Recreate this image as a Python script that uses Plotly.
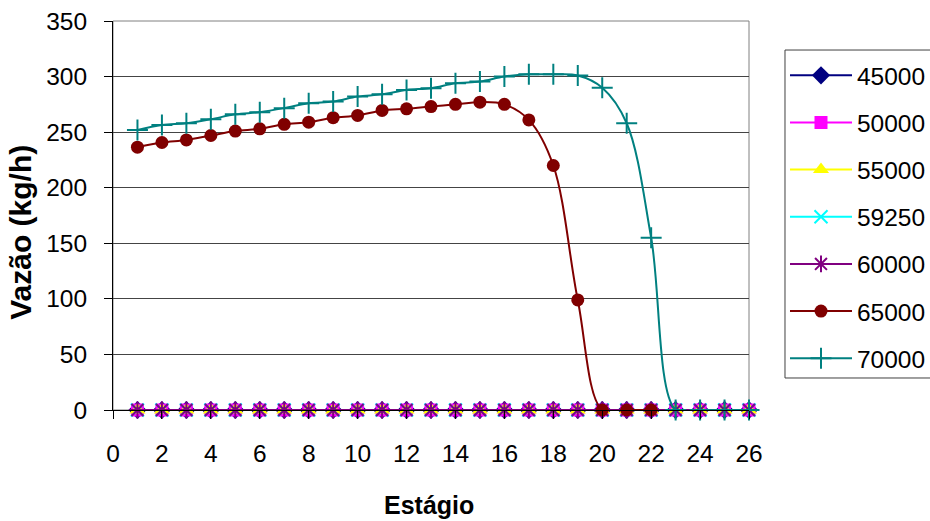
import plotly.graph_objects as go

stages = [1, 2, 3, 4, 5, 6, 7, 8, 9, 10, 11, 12, 13, 14, 15, 16, 17, 18, 19, 20, 21, 22, 23, 24, 25, 26]
stages_65000 = [1, 2, 3, 4, 5, 6, 7, 8, 9, 10, 11, 12, 13, 14, 15, 16, 17, 18, 19, 20, 21, 22]

v45000 = [0, 0, 0, 0, 0, 0, 0, 0, 0, 0, 0, 0, 0, 0, 0, 0, 0, 0, 0, 0, 0, 0, 0, 0, 0, 0]
v50000 = [0, 0, 0, 0, 0, 0, 0, 0, 0, 0, 0, 0, 0, 0, 0, 0, 0, 0, 0, 0, 0, 0, 0, 0, 0, 0]
v55000 = [0, 0, 0, 0, 0, 0, 0, 0, 0, 0, 0, 0, 0, 0, 0, 0, 0, 0, 0, 0, 0, 0, 0, 0, 0, 0]
v59250 = [0, 0, 0, 0, 0, 0, 0, 0, 0, 0, 0, 0, 0, 0, 0, 0, 0, 0, 0, 0, 0, 0, 0, 0, 0, 0]
v60000 = [0, 0, 0, 0, 0, 0, 0, 0, 0, 0, 0, 0, 0, 0, 0, 0, 0, 0, 0, 0, 0, 0, 0, 0, 0, 0]
v65000 = [236.5, 240.7, 243, 247, 251, 253, 257, 259, 263, 265, 269.5, 271, 273, 275, 277,
          275, 261, 220, 99, 0, 0, 0]
v70000 = [252, 256.5, 258, 261.6, 266, 268, 271.6, 276, 277.5, 282, 284, 288, 289.5, 294,
          295.5, 300, 302, 302, 301, 290, 258, 155, 0, 0, 0, 0]

series_names = ["45000", "50000", "55000", "59250", "60000", "65000", "70000"]
x_ticks = [0, 2, 4, 6, 8, 10, 12, 14, 16, 18, 20, 22, 24, 26]
y_ticks = [0, 50, 100, 150, 200, 250, 300, 350]

FONT = "Liberation Sans, Arial, sans-serif"
FS = 24.5

styles = [
    dict(color="#000080", symbol="diamond", size=14, lw=0),
    dict(color="#FF00FF", symbol="square", size=13, lw=0),
    dict(color="#FFFF00", symbol="triangle-up", size=14, lw=0),
    dict(color="#00FFFF", symbol="x-thin-open", size=13, lw=2),
    dict(color="#800080", symbol="asterisk-open", size=14, lw=2),
    dict(color="#800000", symbol="circle", size=13, lw=0),
    dict(color="#008080", symbol="cross-thin-open", size=15, lw=2),
]
xs = [stages, stages, stages, stages, stages, stages_65000, stages]
ys = [v45000, v50000, v55000, v59250, v60000, v65000, v70000]

fig = go.Figure()
for i, name in enumerate(series_names):
    st = styles[i]
    fig.add_trace(go.Scatter(
        x=xs[i], y=ys[i], name=name, mode="lines+markers",
        legendgroup=name, cliponaxis=False,
        line=dict(color=st["color"], width=2, shape="spline", smoothing=1),
        marker=dict(symbol=st["symbol"], size=st["size"], color=st["color"],
                    line=dict(color=st["color"], width=st["lw"])),
    ))

fig.update_layout(
    width=930, height=521,
    margin=dict(l=113, r=181, t=21, b=111, autoexpand=False),
    paper_bgcolor="white", plot_bgcolor="white",
    font=dict(family=FONT, size=FS, color="black"),
    showlegend=True,
    legend=dict(
        x=1.0566, xanchor="left", y=0.918, yanchor="top",
        borderwidth=0, bgcolor="rgba(0,0,0,0)",
        font=dict(size=FS), traceorder="grouped", tracegroupgap=12.3,
        itemwidth=62,
    ),
    xaxis=dict(
        range=[0, 26], tickvals=x_ticks, ticks="outside", ticklen=8,
        tickcolor="black", showline=True, linecolor="black", linewidth=1,
        showgrid=False, zeroline=False, ticklabelstandoff=14, automargin=False,
    ),
    yaxis=dict(
        range=[0, 350], tickvals=y_ticks, ticks="outside", ticklen=8,
        tickcolor="black", showline=True, linecolor="black", linewidth=1,
        showgrid=True, gridcolor="#444444", gridwidth=1, zeroline=False,
        ticklabelstandoff=12, automargin=False,
    ),
    shapes=[
        dict(type="rect", xref="paper", yref="paper", x0=0, x1=1, y0=0, y1=1,
             line=dict(color="#808080", width=1), layer="below"),
        dict(type="rect", xref="paper", yref="paper", x0=1.0566, x1=1.4,
             y0=0.0823, y1=0.9254, line=dict(color="#404040", width=1), layer="below"),
    ],
    annotations=[
        dict(text="<b>Estágio</b>", xref="paper", yref="paper",
             x=0.4975, y=-0.244, xanchor="center", yanchor="middle",
             showarrow=False, font=dict(size=25)),
        dict(text="<b>Vazão (kg/h)</b>", xref="paper", yref="paper",
             x=-0.145, y=0.4576, xanchor="center", yanchor="middle",
             textangle=-90, showarrow=False, font=dict(size=30)),
    ],
)

fig.write_html("out.html")
